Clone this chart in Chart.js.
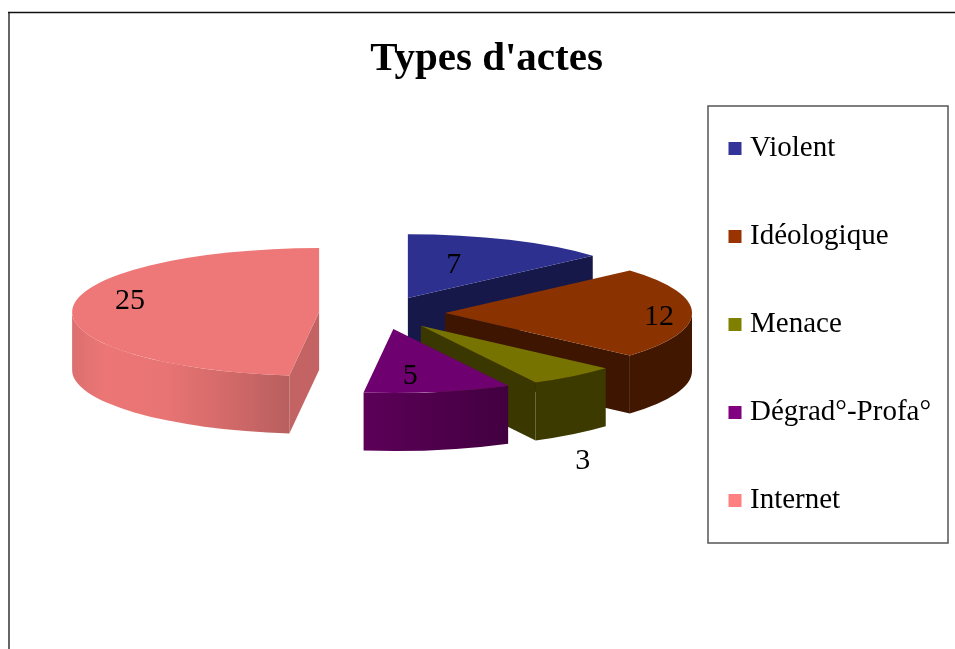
<!DOCTYPE html>
<html>
<head>
<meta charset="utf-8">
<style>html,body{margin:0;padding:0;background:#fff}canvas{display:block}</style>
<script src="https://cdn.jsdelivr.net/npm/chart.js@4"></script>
</head>
<body>
<canvas id="c" width="955" height="649"></canvas>
<script>
const chartTitle = "Types d'actes";
const categories = ["Violent", "Idéologique", "Menace", "Dégrad°-Profa°", "Internet"];
const values = [7, 12, 3, 5, 25];

// styles
const topColors = ["#2E3090", "#8B3300", "#777300", "#6F006F", "#EE7777"];
const legendColors = ["#333399", "#993300", "#808000", "#800080", "#FF8080"];
const radialWallColors = ["#16184A", "#3D1500", "#3A3700", "#420040", "#C46363"];
const outerWallStops = [
  [[0, "#16184A"], [1, "#16184A"]],
  [[0, "#421700"], [1, "#421700"]],
  [[0, "#3D3A00"], [1, "#3D3A00"]],
  [[0, "#5C0058"], [1, "#420040"]],
  [[0, "#DC6F6F"], [0.15, "#EC7676"], [0.42, "#E97474"], [0.75, "#D06868"], [1, "#B85F5F"]]
];
const paintOrder = [0, 1, 4, 2, 3];
const labelShift = [[46, -33], [214, 4], [162, 135], [17, 47], [-189, -11]];
const pie = {x: 382, y: 313, radius: 247, squash: 0.259, explode: 63, depth: 58};
const serif = "'Liberation Serif', serif";

function sliceGeometry(el) {
  const mid = (el.startAngle + el.endAngle) / 2;
  const ox = Math.cos(mid) * pie.explode, oy = Math.sin(mid) * pie.explode;
  return {ox, oy, ax: pie.x + ox, ay: pie.y + oy * pie.squash};
}

const pie3d = {
  id: 'pie3d',
  afterLayout(chart) {
    chart.legend.left = 734.5 - chart.options.plugins.legend.labels.padding;
    chart.legend.top = 75;
  },
  beforeDatasetDraw(chart, args) {
    const ctx = chart.ctx, meta = args.meta;
    const R = pie.radius, Ry = R * pie.squash, d = pie.depth;
    paintOrder.forEach(i => {
      const el = meta.data[i];
      const g = sliceGeometry(el), s = el.startAngle, e = el.endAngle;
      const pt = a => [g.ax + R * Math.cos(a), g.ay + Ry * Math.sin(a)];
      const radialWall = a => {
        const p = pt(a);
        ctx.beginPath();
        ctx.moveTo(g.ax, g.ay);
        ctx.lineTo(p[0], p[1]);
        ctx.lineTo(p[0], p[1] + d);
        ctx.lineTo(g.ax, g.ay + d);
        ctx.closePath();
        ctx.fillStyle = radialWallColors[i];
        ctx.fill();
      };
      if (Math.cos(s) < -1e-6) radialWall(s);
      if (Math.cos(e) > 1e-6) radialWall(e);
      const a1 = Math.max(s, 0), a2 = Math.min(e, Math.PI);
      if (a2 > a1) {
        const x1 = pt(a1)[0], x2 = pt(a2)[0];
        const grad = ctx.createLinearGradient(Math.min(x1, x2), 0, Math.max(x1, x2), 0);
        // stops run left to right on the wall
        outerWallStops[i].forEach(st => grad.addColorStop(st[0], st[1]));
        ctx.beginPath();
        ctx.ellipse(g.ax, g.ay, R, Ry, 0, a1, a2, false);
        ctx.ellipse(g.ax, g.ay + d, R, Ry, 0, a2, a1, true);
        ctx.closePath();
        ctx.fillStyle = grad;
        ctx.fill();
      }
      ctx.save();
      ctx.translate(pie.x, pie.y);
      ctx.scale(1, pie.squash);
      ctx.translate(g.ox - el.x, g.oy - el.y);
      el.draw(ctx);
      ctx.restore();
    });
    return false;
  },
  afterDatasetsDraw(chart) {
    const ctx = chart.ctx, meta = chart.getDatasetMeta(0);
    ctx.save();
    ctx.fillStyle = "#000";
    ctx.font = "30px " + serif;
    ctx.textAlign = "center";
    ctx.textBaseline = "middle";
    meta.data.forEach((el, i) => {
      const g = sliceGeometry(el);
      ctx.fillText(String(values[i]), g.ax + labelShift[i][0], g.ay + labelShift[i][1]);
    });
    ctx.restore();
  },
  afterDraw(chart) {
    const ctx = chart.ctx;
    ctx.save();
    ctx.strokeStyle = "#555";
    ctx.lineWidth = 1.5;
    ctx.strokeRect(708, 106, 240, 437);
    ctx.beginPath();
    ctx.moveTo(9, 13); ctx.lineTo(9, 649);
    ctx.strokeStyle = "#666";
    ctx.lineWidth = 2;
    ctx.stroke();
    ctx.beginPath();
    ctx.moveTo(8, 12.5); ctx.lineTo(955, 12.5);
    ctx.strokeStyle = "#111";
    ctx.lineWidth = 1.5;
    ctx.stroke();
    ctx.restore();
  }
};

new Chart(document.getElementById('c'), {
  type: 'pie',
  data: {
    labels: categories,
    datasets: [{
      data: values,
      backgroundColor: topColors,
      borderWidth: 0,
      radius: pie.radius
    }]
  },
  plugins: [pie3d],
  options: {
    responsive: false,
    animation: false,
    radius: pie.radius,
    layout: {padding: {left: 25, right: 7, top: 0, bottom: 0}},
    plugins: {
      tooltip: {enabled: false},
      title: {
        display: true,
        text: chartTitle,
        color: "#000",
        font: {family: serif, size: 41, weight: 'bold'},
        padding: {top: 35, bottom: 10}
      },
      legend: {
        display: true,
        position: 'right',
        align: 'start',
        labels: {
          color: "#000",
          font: {family: serif, size: 29},
          padding: 59,
          usePointStyle: true,
          pointStyle: 'rect',
          boxWidth: 1,
          boxHeight: 13,
          generateLabels(chart) {
            return categories.map((t, i) => ({
              text: t, index: i, fillStyle: legendColors[i], strokeStyle: legendColors[i],
              lineWidth: 0, pointStyle: 'rect', hidden: false
            }));
          }
        }
      }
    }
  }
});
</script>
</body>
</html>
